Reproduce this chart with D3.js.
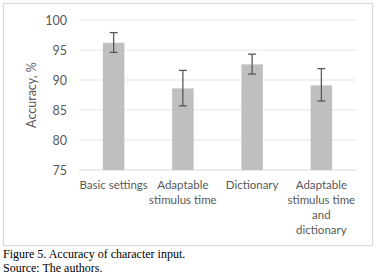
<!DOCTYPE html>
<html><head><meta charset="utf-8">
<script src="https://cdn.jsdelivr.net/npm/d3@7"></script>
<style>html,body{margin:0;padding:0;background:#fff;}svg{display:block;}</style>
</head><body>
<script>
const categories = [["Basic settings"], ["Adaptable", "stimulus time"], ["Dictionary"], ["Adaptable", "stimulus time", "and", "dictionary"]];
const values = [96.2, 88.6, 92.6, 89.1];
const errLow = [94.6, 85.7, 91.0, 86.5];
const errHigh = [97.9, 91.6, 94.3, 91.9];
const yTicks = [75, 80, 85, 90, 95, 100];
const yTitle = "Accuracy, %";
const caption = ["Figure 5. Accuracy of character input.", "Source: The authors."];

const W = 376, H = 277;
const svg = d3.select("body").append("svg").attr("width", W).attr("height", H);
const font = "Lato, 'Liberation Sans', sans-serif";

svg.append("rect").attr("x", 3.5).attr("y", 3.5).attr("width", 369).attr("height", 242)
  .attr("fill", "#fff").attr("stroke", "#d9d9d9").attr("stroke-width", 1.2);

const x = d3.scaleBand().domain(d3.range(categories.length)).range([79, 356]).paddingInner(0.69).paddingOuter(0.345);
const y = d3.scaleLinear().domain([75, 100]).range([170, 20]);

svg.append("g").selectAll("line").data(yTicks).join("line")
  .attr("x1", 79).attr("x2", 356).attr("y1", d => y(d)).attr("y2", d => y(d))
  .attr("stroke", d => d === 75 ? "#d9d9d9" : "#e6e6e6").attr("stroke-width", 1.2);

const yAxis = d3.axisLeft(y).tickValues(yTicks).tickSize(0).tickPadding(0);
const ga = svg.append("g").attr("transform", "translate(67,0)").call(yAxis);
ga.select(".domain").remove();
ga.selectAll("text").attr("font-family", font).attr("font-size", 12.5).attr("fill", "#595959");

svg.append("text").attr("transform", "translate(36,95) rotate(-90)").attr("text-anchor", "middle")
  .attr("font-family", font).attr("font-size", 12.5).attr("fill", "#595959").text(yTitle);

svg.append("g").selectAll("rect").data(values).join("rect")
  .attr("x", (d, i) => x(i)).attr("width", x.bandwidth())
  .attr("y", d => y(d)).attr("height", d => y(75) - y(d)).attr("fill", "#bfbfc1");

const eg = svg.append("g").attr("stroke", "#595959").attr("stroke-width", 1.3);
values.forEach((v, i) => {
  const cx = x(i) + x.bandwidth() / 2;
  eg.append("line").attr("x1", cx).attr("x2", cx).attr("y1", y(errHigh[i])).attr("y2", y(errLow[i]));
  [errHigh[i], errLow[i]].forEach(e => eg.append("line").attr("x1", cx - 4).attr("x2", cx + 4).attr("y1", y(e)).attr("y2", y(e)));
});

categories.forEach((lines, i) => {
  const cx = x(i) + x.bandwidth() / 2;
  const t = svg.append("text").attr("text-anchor", "middle").attr("font-family", font)
    .attr("font-size", 11.5).attr("fill", "#595959");
  lines.forEach((l, j) => t.append("tspan").attr("x", cx).attr("y", 189 + j * 15).text(l));
});

caption.forEach((c, j) => svg.append("text").attr("x", 3).attr("y", 258 + j * 14)
  .attr("font-family", "'Liberation Serif', serif").attr("font-size", 12).attr("fill", "#000").text(c));
</script>
</body></html>
